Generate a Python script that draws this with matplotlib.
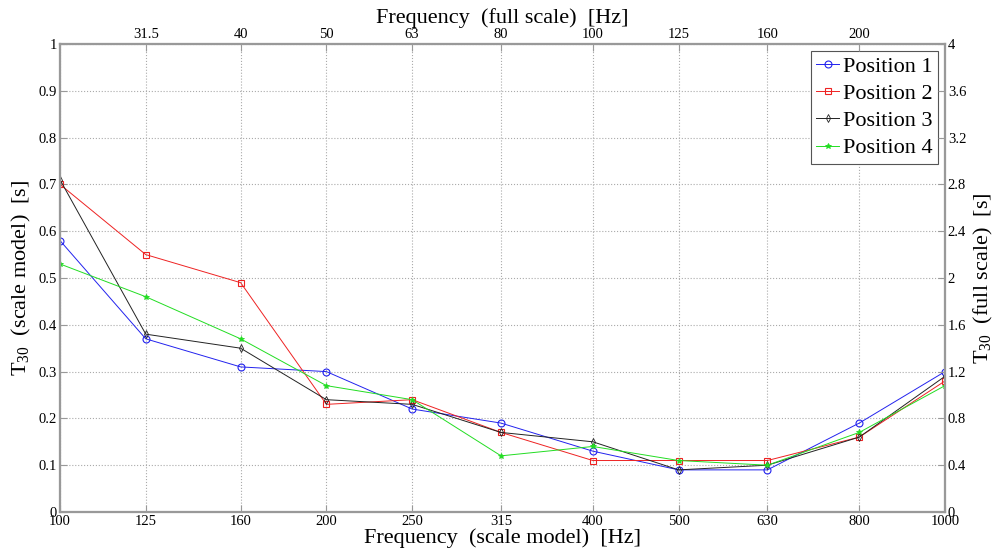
import numpy as np
import matplotlib
matplotlib.use('Agg')
import matplotlib.pyplot as plt
from matplotlib.ticker import FixedLocator, FixedFormatter, NullLocator

plt.rcParams['font.family'] = ['Liberation Serif', 'DejaVu Serif']
plt.rcParams['mathtext.fontset'] = 'custom'
plt.rcParams['mathtext.rm'] = 'Liberation Serif'
plt.rcParams['mathtext.it'] = 'Liberation Serif'

# --- datos ---
freq_model = [100, 125, 160, 200, 250, 315, 400, 500, 630, 800, 1000]
freq_full_labels = ['31.5', '40', '50', '63', '80', '100', '125', '160', '200']
pos1 = [0.58, 0.37, 0.31, 0.30, 0.22, 0.19, 0.13, 0.09, 0.09, 0.19, 0.30]
pos2 = [0.70, 0.55, 0.49, 0.23, 0.24, 0.17, 0.11, 0.11, 0.11, 0.16, 0.28]
pos3 = [0.71, 0.38, 0.35, 0.24, 0.23, 0.17, 0.15, 0.09, 0.10, 0.16, 0.29]
pos4 = [0.53, 0.46, 0.37, 0.27, 0.24, 0.12, 0.14, 0.11, 0.10, 0.17, 0.27]

spine_col = '#999999'
fig = plt.figure(figsize=(10.02, 5.59), dpi=100)
ax = fig.add_axes([60/1002, 47/559, 885/1002, 468/559])

ax.plot(freq_model, pos1, '-o', color='#2222ee', lw=0.7, ms=5, mfc='none', mew=0.8, label='Position 1')
ax.plot(freq_model, pos2, '-s', color='#ee2222', lw=0.7, ms=5, mfc='none', mew=0.8, label='Position 2')
ax.plot(freq_model, pos3, '-d', color='#222222', lw=0.7, ms=4, mfc='none', mew=0.6, label='Position 3')
ax.plot(freq_model, pos4, '-*', color='#22dd22', lw=0.7, ms=4, mew=0.6, label='Position 4')

ax.set_xscale('log')
ax.set_xlim(100, 1000)
ax.set_ylim(0, 1)
ax.xaxis.set_major_locator(FixedLocator(freq_model))
ax.xaxis.set_major_formatter(FixedFormatter([str(f) for f in freq_model]))
ax.xaxis.set_minor_locator(NullLocator())
yt = np.round(np.arange(0, 1.01, 0.1), 1)
ax.set_yticks(yt)
ax.set_yticklabels([f'{v:g}' for v in yt])
ax.tick_params(direction='in', labelsize=10.5, length=5, color=spine_col, pad=2)
ax.grid(True, which='major', linestyle=':', color='#aaaaaa', lw=0.8)
for s in ax.spines.values():
    s.set_color(spine_col)
    s.set_linewidth(1.5)
ax.set_xlabel('Frequency  (scale model)  [Hz]', fontsize=16, labelpad=0)
ax.set_ylabel('T$_{30}$  (scale model)  [s]', fontsize=16, labelpad=4)

# eje superior
axt = ax.twiny()
axt.set_xscale('log')
axt.set_xlim(100, 1000)
axt.xaxis.set_major_locator(FixedLocator(freq_model[1:-1]))
axt.xaxis.set_major_formatter(FixedFormatter(freq_full_labels))
axt.xaxis.set_minor_locator(NullLocator())
axt.tick_params(direction='in', labelsize=10.5, length=5, color=spine_col, pad=2)
axt.set_xlabel('Frequency  (full scale)  [Hz]', fontsize=16, labelpad=4)

# eje derecho
axr = ax.twinx()
axr.set_ylim(0, 4)
rt = np.round(np.arange(0, 4.01, 0.4), 1)
axr.set_yticks(rt)
axr.set_yticklabels([f'{v:g}' for v in rt])
axr.tick_params(direction='in', labelsize=10.5, length=5, color=spine_col, pad=2)
axr.set_ylabel('T$_{30}$  (full scale)  [s]', fontsize=16, labelpad=4)
for a in (axt, axr):
    for s in a.spines.values():
        s.set_color(spine_col)
        s.set_linewidth(1.5)

leg = ax.legend(loc='upper right', fontsize=16, fancybox=False, framealpha=1,
                edgecolor='#555555', borderpad=0.25, labelspacing=0.3,
                handlelength=1.0, handletextpad=0.2, borderaxespad=0.3)
leg.get_frame().set_linewidth(0.8)
leg.set_zorder(10)

fig.savefig('out.png', dpi=100)
